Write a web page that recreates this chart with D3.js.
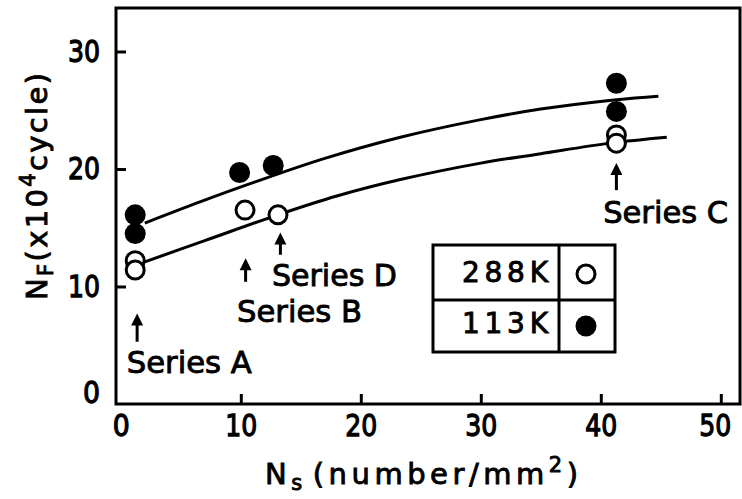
<!DOCTYPE html>
<html><head><meta charset="utf-8">
<script src="https://cdn.jsdelivr.net/npm/d3@7"></script>
<style>body{margin:0;background:#fff}svg{display:block}text{font-family:"DejaVu Sans",sans-serif;fill:#000}</style>
</head><body><svg id="c" width="742" height="499"></svg>
<script>
// ---- data ----
const xTicks = [0, 10, 20, 30, 40, 50];
const yTicks = [0, 10, 20, 30];
// 288K open circles
const openX = [1.2, 1.2, 10.35, 13.1, 41.3, 41.3];
const openY = [12.2, 11.4, 16.5, 16.1, 22.9, 22.2];
// 113K filled circles
const filledX = [1.2, 1.2, 9.9, 12.7, 41.3, 41.3];
const filledY = [16.1, 14.5, 19.7, 20.3, 27.3, 24.9];
// fitted curves
const curve113X = [2.0, 6.6, 11.2, 17, 23.3, 30, 35, 41.3, 44.8];
const curve113Y = [15.4, 17.2, 18.9, 20.9, 22.7, 24.2, 25.1, 25.9, 26.2];
const curve288X = [2.0, 7, 13.1, 18, 23.3, 30, 35, 40.8, 45.5];
const curve288Y = [12.1, 13.9, 16.1, 17.7, 19.1, 20.5, 21.3, 22.2, 22.7];
// annotations
const annLabels = ["Series A", "Series B", "Series D", "Series C"];
const annArrowX = [1.36, 10.4, 13.3, 41.3];
const annTipY = [7.7, 12.4, 14.6, 20.5];
const annTailY = [5.3, 10.4, 12.7, 18.2];
const annTextX = [0.5, 20.1, 12.6, 40.2];
const annTextY = [2.6, 7.0, 10.0, 15.4];
const annAnchor = ["start", "end", "start", "start"];
const legendLabels = ["288K", "113K"];

// ---- scales ----
const svg = d3.select("#c");
const x = d3.scaleLinear().domain([-0.4, 51.6]).range([116, 740]);
const y = d3.scaleLinear().domain([0, 33.7]).range([404, 8]);

// frame
svg.append("rect").attr("x", x(-0.4)).attr("y", y(33.7))
  .attr("width", x(51.6) - x(-0.4)).attr("height", y(0) - y(33.7))
  .attr("fill", "none").attr("stroke", "#000").attr("stroke-width", 3);

// axes
const gx = svg.append("g").attr("transform", `translate(0,${y(0)})`)
  .call(d3.axisBottom(x).tickValues(xTicks).tickSize(-10).tickPadding(10).tickFormat(d3.format("d")));
const gy = svg.append("g").attr("transform", `translate(${x(-0.4)},0)`)
  .call(d3.axisLeft(y).tickValues(yTicks).tickSize(-10).tickPadding(16).tickFormat(d3.format("d")));
[gx, gy].forEach(g => {
  g.select(".domain").remove();
  g.selectAll(".tick line").attr("stroke", "#000").attr("stroke-width", 3);
  g.selectAll(".tick text").attr("font-size", 31).attr("font-family", "DejaVu Sans")
    .attr("fill", "#000").attr("stroke", "#000").attr("stroke-width", 1.3)
    .attr("textLength", d => d === 0 ? 17 : 32).attr("lengthAdjust", "spacingAndGlyphs");
});
gx.selectAll(".tick line").filter(d => d === 0).remove();
gy.selectAll(".tick line").filter(d => d === 0).remove();
gy.selectAll(".tick text").filter(d => d === 0).attr("dy", "-0.05em");
gx.selectAll(".tick text").filter(d => d === 50).attr("dx", -6);

// curves
const line = d3.line().x(d => x(d[0])).y(d => y(d[1])).curve(d3.curveCatmullRom);
svg.append("path").datum(curve113X.map((v, i) => [v, curve113Y[i]]))
  .attr("d", line).attr("fill", "none").attr("stroke", "#000").attr("stroke-width", 3);
svg.append("path").datum(curve288X.map((v, i) => [v, curve288Y[i]]))
  .attr("d", line).attr("fill", "none").attr("stroke", "#000").attr("stroke-width", 3);

// points
svg.append("g").selectAll("circle").data(openX.map((v, i) => [v, openY[i]])).join("circle")
  .attr("cx", d => x(d[0])).attr("cy", d => y(d[1])).attr("r", 9)
  .attr("fill", "#fff").attr("stroke", "#000").attr("stroke-width", 3);
svg.append("g").selectAll("circle").data(filledX.map((v, i) => [v, filledY[i]])).join("circle")
  .attr("cx", d => x(d[0])).attr("cy", d => y(d[1])).attr("r", 10.5).attr("fill", "#000");

// annotations
annLabels.forEach((t, i) => {
  const ax = x(annArrowX[i]), y1 = y(annTipY[i]), y2 = y(annTailY[i]);
  svg.append("line").attr("x1", ax).attr("x2", ax).attr("y1", y1 + 6).attr("y2", y2)
    .attr("stroke", "#000").attr("stroke-width", 3);
  svg.append("path").attr("d", `M${ax},${y1} L${ax - 6},${y1 + 12} L${ax + 6},${y1 + 12} Z`).attr("fill", "#000");
  svg.append("text").attr("x", x(annTextX[i])).attr("y", y(annTextY[i]))
    .attr("text-anchor", annAnchor[i]).attr("font-size", 31)
    .attr("stroke", "#000").attr("stroke-width", 0.9)
    .attr("textLength", 125).attr("lengthAdjust", "spacingAndGlyphs").text(t);
});

// legend table
const lg = svg.append("g");
lg.append("rect").attr("x", 433).attr("y", 245).attr("width", 182).attr("height", 107)
  .attr("fill", "#fff").attr("stroke", "#000").attr("stroke-width", 3);
lg.append("line").attr("x1", 433).attr("x2", 615).attr("y1", 300).attr("y2", 300).attr("stroke", "#000").attr("stroke-width", 3);
lg.append("line").attr("x1", 559).attr("x2", 559).attr("y1", 245).attr("y2", 352).attr("stroke", "#000").attr("stroke-width", 3);
legendLabels.forEach((t, i) => {
  lg.append("text").attr("x", 462).attr("y", 282 + i * 51).attr("font-size", 28)
    .attr("stroke", "#000").attr("stroke-width", 0.9)
    .attr("textLength", 86).attr("lengthAdjust", "spacing").text(t);
});
lg.append("circle").attr("cx", 586).attr("cy", 274).attr("r", 9).attr("fill", "#fff").attr("stroke", "#000").attr("stroke-width", 3);
lg.append("circle").attr("cx", 586).attr("cy", 326).attr("r", 10.5).attr("fill", "#000");

// axis titles
const xt = svg.append("text").attr("x", 265).attr("y", 484).attr("font-size", 29)
  .attr("stroke", "#000").attr("stroke-width", 0.9)
  .attr("textLength", 313).attr("lengthAdjust", "spacing");
xt.append("tspan").text("N");
xt.append("tspan").attr("font-size", 21).attr("dy", 6).text("s");
xt.append("tspan").attr("dy", -6).attr("dx", 6).text("(number/mm");
xt.append("tspan").attr("font-size", 21).attr("dy", -12).text("2");
xt.append("tspan").attr("dy", 12).text(")");

const yt = svg.append("text").attr("transform", "translate(47,300) rotate(-90)").attr("font-size", 29)
  .attr("stroke", "#000").attr("stroke-width", 0.9)
  .attr("textLength", 227).attr("lengthAdjust", "spacing");
yt.append("tspan").text("N");
yt.append("tspan").attr("font-size", 21).attr("dy", 6).text("F");
yt.append("tspan").attr("dy", -6).text("(x10");
yt.append("tspan").attr("font-size", 21).attr("dy", -12).text("4");
yt.append("tspan").attr("dy", 12).text("cycle)");
</script></body></html>
